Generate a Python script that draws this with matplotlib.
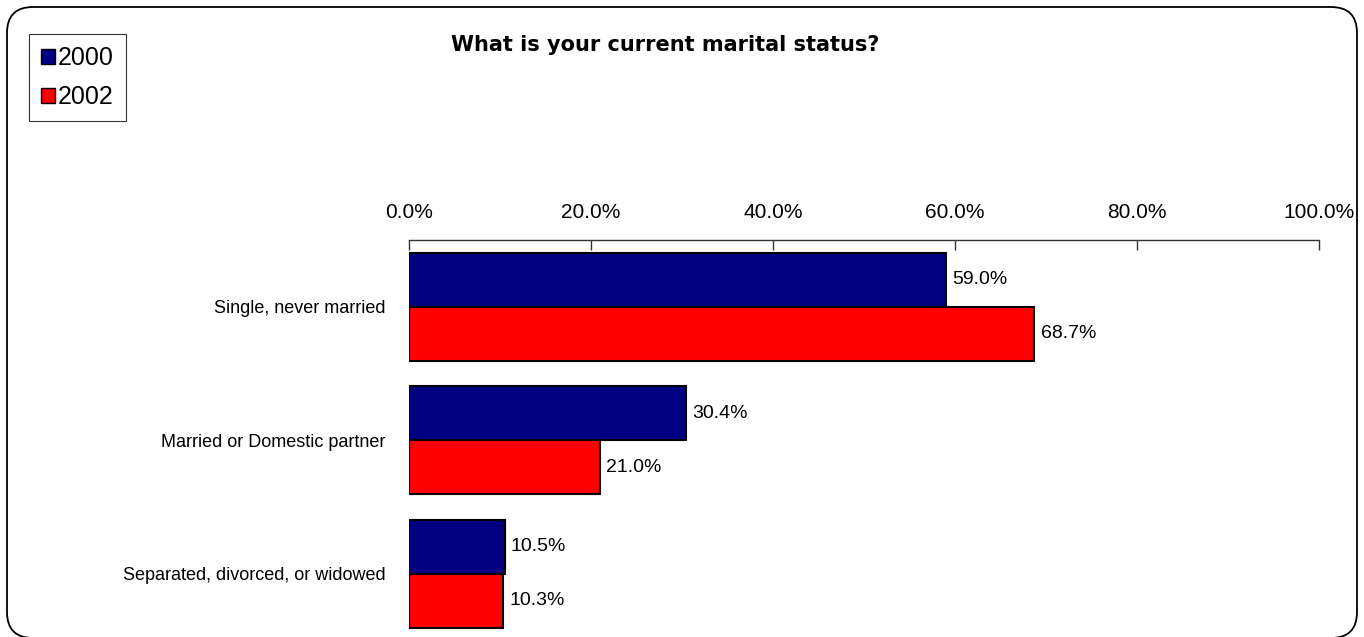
import matplotlib.pyplot as plt
import numpy as np
from matplotlib.patches import FancyBboxPatch, Patch
import matplotlib.ticker as ticker

# データ
categories = ["Single, never married", "Married or Domestic partner",
              "Separated, divorced, or widowed"]
values_2000 = [59.0, 30.4, 10.5]
values_2002 = [68.7, 21.0, 10.3]
series_names = ["2000", "2002"]
colors = ["#000080", "#FF0000"]

plt.rcParams["font.family"] = ["Liberation Sans", "DejaVu Sans"]

W, H = 1364, 637
fig = plt.figure(figsize=(W / 100, H / 100), dpi=100)

# 角丸の枠 (ピクセル座標)
frame = FancyBboxPatch((7, -1), 1350, H - 7 + 1,
                       boxstyle="round,pad=0,rounding_size=26",
                       transform=None, fill=False,
                       edgecolor="black", linewidth=1.3)
fig.patches.append(frame)

# 軸の位置 (ピクセル基準)
left, right = 409 / W, 1319 / W
top, bottom = 1 - 240 / H, 0.0
ax = fig.add_axes([left, bottom, right - left, top - bottom])

y = np.arange(len(categories))
h = 0.405
bars1 = ax.barh(y - h / 2, values_2000, h, color=colors[0], edgecolor="black", linewidth=1.5)
bars2 = ax.barh(y + h / 2, values_2002, h, color=colors[1], edgecolor="black", linewidth=1.5)

for bars, vals in [(bars1, values_2000), (bars2, values_2002)]:
    for b, v in zip(bars, vals):
        ax.text(v + 0.7, b.get_y() + b.get_height() / 2, f"{v:.1f}%",
                va="center", ha="left", fontsize=14)

ax.set_xlim(0, 100)
ax.set_ylim(-0.5 + 397 / 133.5, -0.5)
ax.xaxis.tick_top()
ax.set_xticks(np.arange(0, 101, 20))
ax.xaxis.set_major_formatter(ticker.FuncFormatter(lambda v, p: f"{v:.1f}%"))
ax.tick_params(axis="x", direction="in", length=7, width=1, labelsize=15, pad=13, color="#333333")
ax.set_yticks(y)
ax.set_yticklabels(categories, fontsize=13)
ax.tick_params(axis="y", length=0, pad=17)

for s in ["bottom", "right", "left"]:
    ax.spines[s].set_visible(False)
ax.spines["top"].set_color("#333333")
ax.spines["top"].set_linewidth(1)

# タイトル
fig.text(665 / W, 1 - 45 / H, "What is your current marital status?",
         ha="center", va="center", fontsize=15, fontweight="bold",
         family=["DejaVu Sans"])

# 凡例
handles = [Patch(facecolor=c, edgecolor="black", label=n) for c, n in zip(colors, series_names)]
leg = fig.legend(handles=handles, loc="upper left", bbox_to_anchor=(29 / W, 1 - 34 / H),
                 fontsize=18, frameon=True, fancybox=False, edgecolor="black",
                 handlelength=0.55, handleheight=0.55, handletextpad=0.12,
                 labelspacing=0.6, borderpad=0.48, borderaxespad=0)
leg.get_frame().set_linewidth(0.8)

fig.savefig("out.png", dpi=100)
